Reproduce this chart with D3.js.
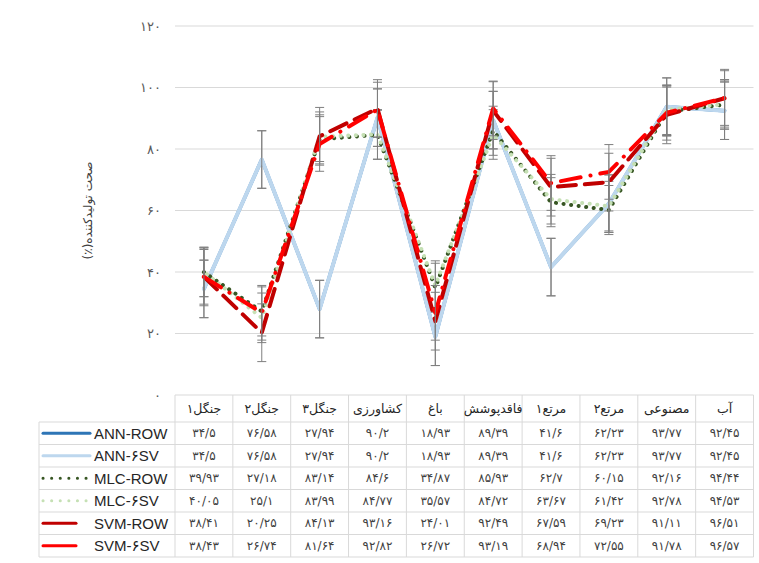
<!DOCTYPE html>
<html>
<head>
<meta charset="utf-8">
<script src="https://cdn.jsdelivr.net/npm/d3@7"></script>
<style>
  body { margin: 0; background: #fff; }
  text { font-family: "Liberation Sans", Arial, "DejaVu Sans", sans-serif; }
  .fa { font-family: "DejaVu Sans", "Noto Sans", sans-serif; }
</style>
</head>
<body>
<svg id="chart" width="759" height="563"></svg>
<script>
// categories, left to right as in the data table
var categories = ["جنگل۱", "جنگل۲", "جنگل۳", "کشاورزی", "باغ", "فاقدپوشش", "مرتع۱", "مرتع۲", "مصنوعی", "آب"];
var seriesNames = ["ANN-ROW", "ANN-۶SV", "MLC-ROW", "MLC-۶SV", "SVM-ROW", "SVM-۶SV"];

var annRow = [34.5, 76.58, 27.94, 90.2, 18.93, 89.39, 41.6, 62.23, 93.77, 92.45];
var ann6sv = [34.5, 76.58, 27.94, 90.2, 18.93, 89.39, 41.6, 62.23, 93.77, 92.45];
var mlcRow = [39.93, 27.18, 83.14, 84.6, 34.87, 85.93, 62.7, 60.15, 92.16, 94.44];
var mlc6sv = [40.05, 25.1, 83.99, 84.77, 35.57, 84.72, 63.67, 61.42, 92.78, 94.53];
var svmRow = [38.41, 20.25, 84.13, 93.16, 24.01, 92.49, 67.59, 69.23, 91.11, 96.51];
var svm6sv = [38.43, 26.74, 81.64, 92.82, 26.72, 93.19, 68.94, 72.55, 91.78, 96.57];

var yTicks = [0, 20, 40, 60, 80, 100, 120];
var yTitle = "صحت تولیدکننده(٪)";

var seriesValues = [annRow, ann6sv, mlcRow, mlc6sv, svmRow, svm6sv];

// line look per series
var styles = [
	{color: "#2e75b6", width: 3.5, dash: null, key: 47},
	{color: "#bdd7ee", width: 4, dash: null, key: 47},
	{color: "#375623", width: 4, dash: "0.1 7.5", offset: 0, key: 47},
	{color: "#c5e0b4", width: 4, dash: "0.1 7.5", offset: 3.8, key: 47},
	{color: "#c00000", width: 4, dash: "18 9", key: 33},
	{color: "#ff0000", width: 4, dash: "20 10 0.1 10", key: 33}
];

var faDigits = "۰۱۲۳۴۵۶۷۸۹";
function toFa(v){
	return String(v).replace(/[0-9]/g, function(c){ return faDigits[+c]; }).replace(".", "/");
}

var svg = d3.select("#chart");

var x = d3.scaleBand()
	.domain(categories)
	.range([175, 753.5]);

var y = d3.scaleLinear()
	.domain([0, 120])
	.range([395, 26]);

var rows = d3.scaleBand()
	.domain(seriesNames)
	.range([422, 557]);

var tableLeft = 39;
var gridColor = "#d9d9d9";

// gridlines
svg.append("g")
	.selectAll("line")
	.data(yTicks.filter(function(d){ return d > 0; }))
	.enter().append("line")
	.attr("x1", x.range()[0])
	.attr("x2", x.range()[1])
	.attr("y1", function(d){ return y(d); })
	.attr("y2", function(d){ return y(d); })
	.attr("stroke", gridColor)
	.attr("stroke-width", 1);

// y tick labels
svg.append("g")
	.selectAll("text")
	.data(yTicks)
	.enter().append("text")
	.attr("class", "fa")
	.attr("x", 161)
	.attr("y", function(d){ return y(d); })
	.attr("dy", "0.35em")
	.attr("text-anchor", "end")
	.attr("font-size", 13)
	.attr("fill", "#595959")
	.text(function(d){ return toFa(d); });

// y axis title
svg.append("text")
	.attr("class", "fa")
	.attr("transform", "translate(88," + y(60) + ") rotate(-90)")
	.attr("text-anchor", "middle")
	.attr("direction", "rtl")
	.attr("dy", "0.35em")
	.attr("font-size", 12)
	.attr("fill", "#404040")
	.text(yTitle);

// series lines with standard error bars
var line = d3.line()
	.x(function(d, i){ return x(categories[i]) + x.bandwidth() / 2; })
	.y(function(d){ return y(d); });

seriesValues.forEach(function(vals, s){
	var st = styles[s];
	var se = d3.deviation(vals) / Math.sqrt(vals.length);

	svg.append("path")
		.datum(vals)
		.attr("d", line)
		.attr("fill", "none")
		.attr("stroke", st.color)
		.attr("stroke-width", st.width)
		.attr("stroke-linejoin", "round")
		.attr("stroke-linecap", "round")
		.attr("stroke-dasharray", st.dash)
		.attr("stroke-dashoffset", st.offset || 0);

	var eb = svg.append("g")
		.attr("stroke", "#7f7f7f")
		.attr("stroke-width", 1)
		.selectAll("g")
		.data(vals)
		.enter().append("g")
		.attr("transform", function(d, i){ return "translate(" + (x(categories[i]) + x.bandwidth() / 2) + ",0)"; });

	eb.append("line")
		.attr("y1", function(d){ return y(d - se); })
		.attr("y2", function(d){ return y(d + se); });
	eb.append("line")
		.attr("x1", -4.5).attr("x2", 4.5)
		.attr("y1", function(d){ return y(d - se); })
		.attr("y2", function(d){ return y(d - se); });
	eb.append("line")
		.attr("x1", -4.5).attr("x2", 4.5)
		.attr("y1", function(d){ return y(d + se); })
		.attr("y2", function(d){ return y(d + se); });
});

// data table
var table = svg.append("g")
	.attr("stroke", gridColor)
	.attr("stroke-width", 1);

table.append("line")
	.attr("x1", x.range()[0]).attr("x2", x.range()[1])
	.attr("y1", y(0)).attr("y2", y(0));

table.selectAll(".hrow")
	.data(seriesNames)
	.enter().append("line")
	.attr("x1", tableLeft).attr("x2", x.range()[1])
	.attr("y1", function(d){ return rows(d); })
	.attr("y2", function(d){ return rows(d); });

table.append("line")
	.attr("x1", tableLeft).attr("x2", x.range()[1])
	.attr("y1", rows.range()[1]).attr("y2", rows.range()[1]);

table.selectAll(".vcol")
	.data(categories)
	.enter().append("line")
	.attr("x1", function(d){ return x(d); })
	.attr("x2", function(d){ return x(d); })
	.attr("y1", y(0)).attr("y2", rows.range()[1]);

table.append("line")
	.attr("x1", x.range()[1]).attr("x2", x.range()[1])
	.attr("y1", y(0)).attr("y2", rows.range()[1]);

table.append("line")
	.attr("x1", tableLeft).attr("x2", tableLeft)
	.attr("y1", rows.range()[0]).attr("y2", rows.range()[1]);

// header cells
svg.append("g")
	.selectAll("text")
	.data(categories)
	.enter().append("text")
	.attr("class", "fa")
	.attr("x", function(d){ return x(d) + x.bandwidth() / 2; })
	.attr("y", (y(0) + rows.range()[0]) / 2)
	.attr("dy", "0.35em")
	.attr("text-anchor", "middle")
	.attr("font-size", 12.5)
	.attr("fill", "#262626")
	.text(function(d){ return d; });

// value cells
seriesValues.forEach(function(vals, s){
	svg.append("g")
		.selectAll("text")
		.data(vals)
		.enter().append("text")
		.attr("class", "fa")
		.attr("x", function(d, i){ return x(categories[i]) + x.bandwidth() / 2; })
		.attr("y", rows(seriesNames[s]) + rows.bandwidth() / 2)
		.attr("dy", "0.35em")
		.attr("text-anchor", "middle")
		.attr("font-size", 12)
		.attr("fill", "#404040")
		.text(function(d){ return toFa(d); });
});

// legend keys and names
var legend = svg.append("g")
	.selectAll("g")
	.data(seriesNames)
	.enter().append("g")
	.attr("transform", function(d){ return "translate(0," + (rows(d) + rows.bandwidth() / 2) + ")"; });

legend.append("line")
	.attr("x1", 43)
	.attr("x2", function(d, i){ return 43 + styles[i].key; })
	.attr("stroke", function(d, i){ return styles[i].color; })
	.attr("stroke-width", 3)
	.attr("stroke-linecap", "round")
	.attr("stroke-dasharray", function(d, i){ return i == 2 || i == 3 ? "0.1 8.5" : null; });

legend.append("text")
	.attr("x", 94)
	.attr("dy", "0.36em")
	.attr("font-size", 15)
	.attr("fill", "#262626")
	.text(function(d){ return d; });
</script>
</body>
</html>
